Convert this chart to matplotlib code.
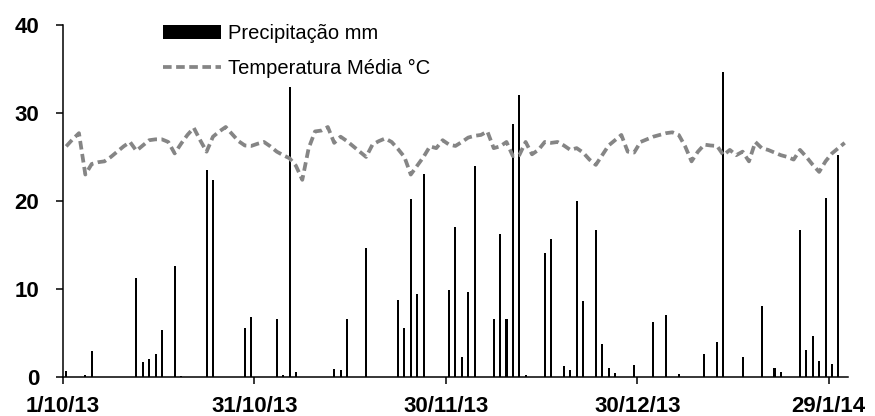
import numpy as np
import matplotlib
matplotlib.use("Agg")
from matplotlib import pyplot as plt

plt.rcParams['font.family'] = ['Liberation Sans', 'DejaVu Sans']

# dias desde 1/10/13 (0..122) e chuva diaria em mm
rain_day = [0, 3, 4, 11, 12, 13, 14, 15, 17, 18, 22, 23, 28, 29, 33, 34, 35, 36,
            42, 43, 44, 47, 52, 53, 54, 55, 56, 60, 61, 62, 63, 64, 67, 68, 69,
            70, 71, 72, 75, 76, 78, 79, 80, 81, 83, 84, 85, 86, 89, 92, 94, 96,
            100, 102, 103, 106, 109, 111, 112, 115, 116, 117, 118, 119, 120, 121]
rain_mm = [0.7, 0.2, 2.9, 11.2, 1.7, 2.0, 2.6, 5.3, 12.6, 0.1, 23.5, 22.4, 5.6, 6.85,
           6.6, 0.2, 33.0, 0.5, 0.9, 0.8, 6.6, 14.6, 8.75, 5.6, 20.2, 9.4, 23.1,
           9.9, 17.0, 2.3, 9.6, 24.0, 6.55, 16.2, 6.55, 28.7, 32.0, 0.2, 14.1,
           15.7, 1.2, 0.8, 20.0, 8.6, 16.7, 3.7, 1.0, 0.4, 1.3, 6.25, 7.05, 0.3,
           2.6, 4.0, 34.6, 2.3, 8.1, 1.0, 0.6, 16.7, 3.1, 4.65, 1.8, 20.3, 1.5, 25.2]

# temperatura media diaria (C), um valor por dia
temp = [26.2, 27.0, 27.7, 23.0, 24.2, 24.4, 24.5, 25.0, 25.6, 26.2,
        26.7, 25.7, 26.3, 26.9, 27.0, 27.0, 26.7, 25.4, 26.5, 27.5,
        28.3, 26.9, 25.6, 27.3, 27.9, 28.4, 27.6, 26.8, 26.3, 26.25,
        26.5, 26.7, 26.2, 25.6, 25.2, 24.85, 24.0, 22.4, 26.0, 27.9,
        28.0, 28.4, 26.6, 27.3, 26.8, 26.2, 25.6, 25.0, 26.4, 26.8,
        27.1, 26.7, 25.9, 25.0, 23.0, 24.0, 25.0, 26.2, 26.0, 26.9,
        26.4, 26.25, 26.7, 27.2, 27.4, 27.5, 27.9, 26.0, 26.2, 26.7,
        25.1, 25.2, 26.7, 25.3, 25.8, 26.7, 26.6, 26.7, 26.3, 25.8,
        26.0, 25.5, 24.7, 24.1, 25.2, 26.3, 26.9, 27.5, 25.6, 25.5,
        26.7, 27.0, 27.3, 27.5, 27.7, 27.8, 27.5, 26.2, 24.5, 25.6,
        26.4, 26.3, 26.25, 25.2, 25.8, 25.2, 25.6, 24.5, 26.7, 26.0,
        25.8, 25.5, 25.2, 25.0, 24.7, 25.8, 25.0, 24.1, 23.3, 24.5,
        25.4, 26.0, 26.6]

tick_pos = [0, 30, 60, 90, 120]
tick_labels = ["1/10/13", "31/10/13", "30/11/13", "30/12/13", "29/1/14"]

n = len(temp)
days = np.arange(n)

fig = plt.figure(figsize=(8.75, 4.16), dpi=100)
ax = fig.add_axes([0.072, 0.094, 0.897, 0.846])

bars = ax.bar(np.array(rain_day) + 0.5, rain_mm, width=0.32, color='black',
              label='Precipitação mm', zorder=2)
line, = ax.plot(days + 0.5, temp, color='#858585', lw=2.7, dashes=(2.3, 1.2),
                label='Temperatura Média °C', zorder=3)

ax.set_xlim(0, n)
ax.set_ylim(0, 40)
ax.set_yticks([0, 10, 20, 30, 40])
ax.set_xticks(tick_pos)
ax.set_xticklabels(tick_labels)

for s in ['top', 'right']:
    ax.spines[s].set_visible(False)
for s in ['left', 'bottom']:
    ax.spines[s].set_linewidth(1.1)

ax.tick_params(axis='y', direction='out', length=5, width=1.1, pad=12)
ax.tick_params(axis='x', direction='out', length=5, width=1.1, pad=9)
for lab in ax.get_xticklabels() + ax.get_yticklabels():
    lab.set_fontsize(16)
    lab.set_fontweight('bold')

ax.legend([bars, line], ['Precipitação mm', 'Temperatura Média °C'],
          loc='upper left', bbox_to_anchor=(0.117, 1.025), frameon=False,
          fontsize=14.5, handlelength=2.9, handletextpad=0.35,
          labelspacing=0.8, borderaxespad=0)

fig.savefig('out.png', dpi=100)
